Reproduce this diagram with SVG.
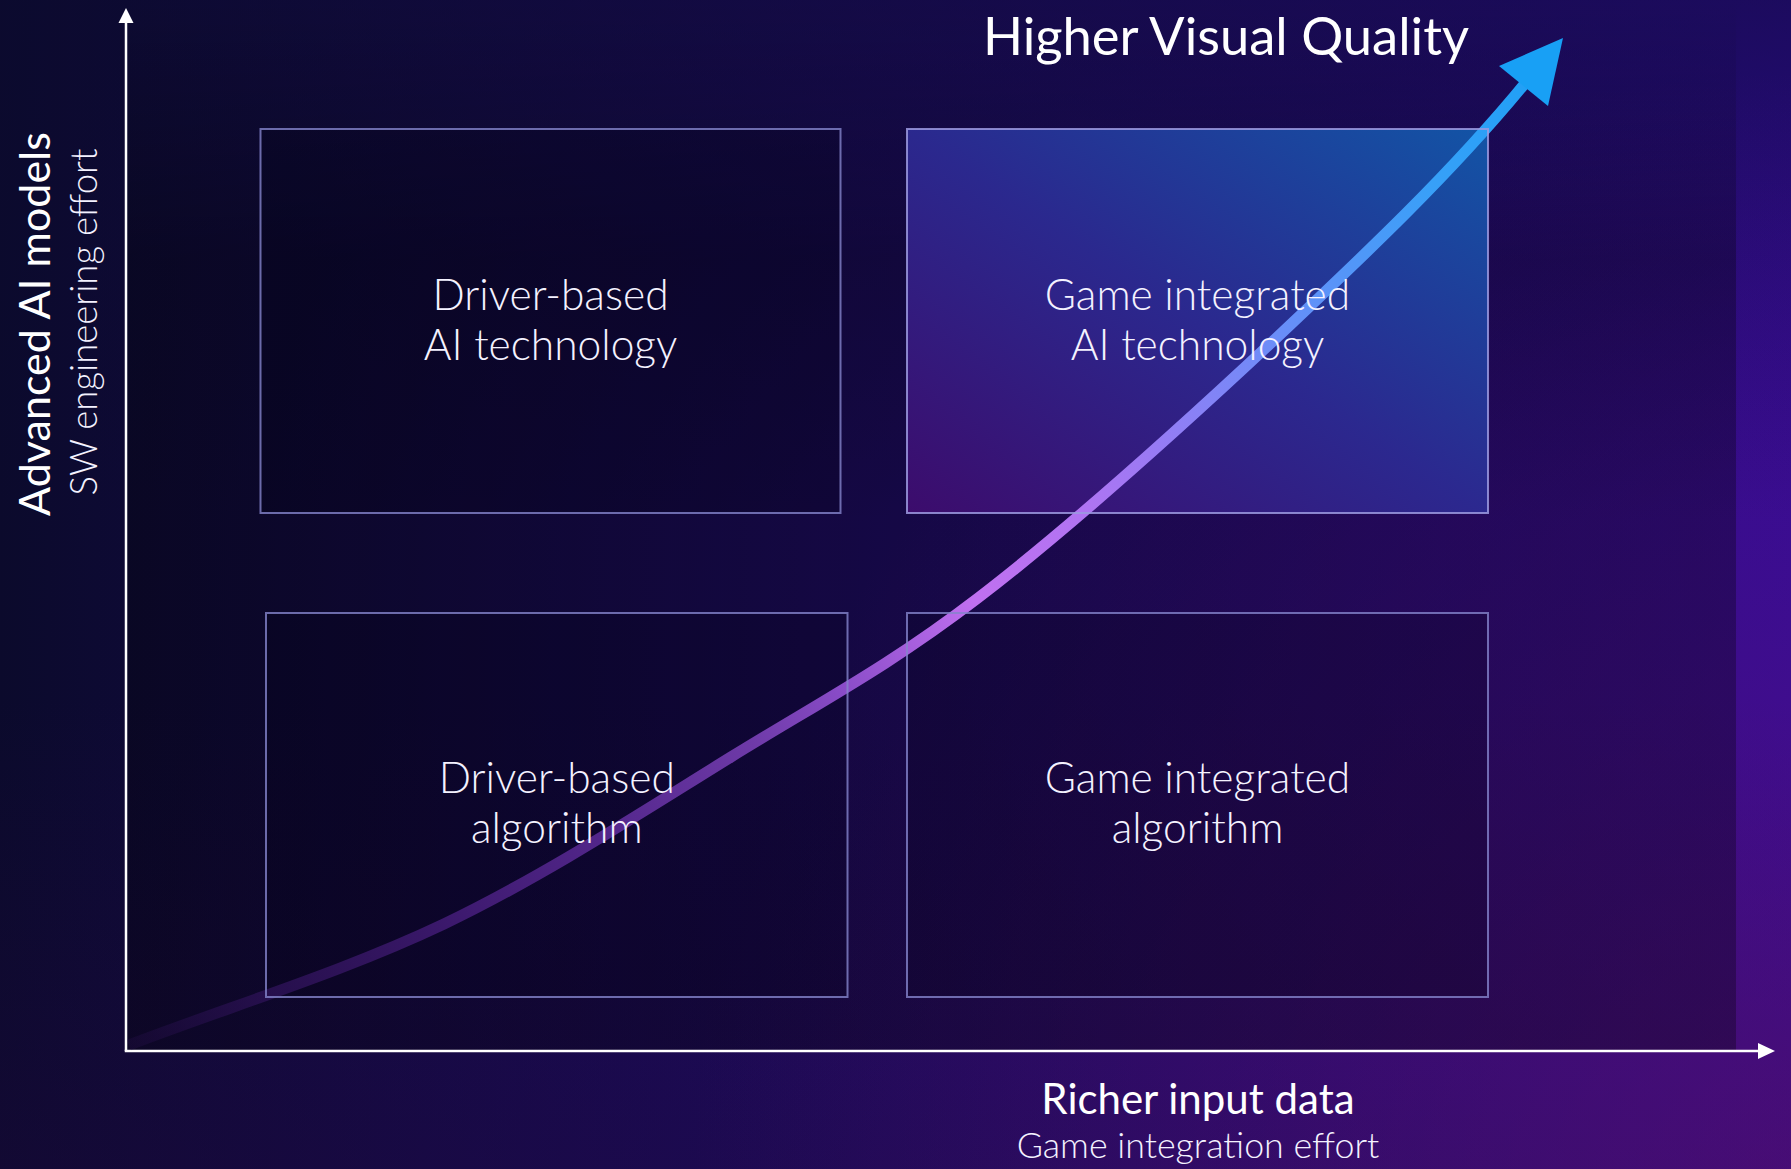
<svg xmlns="http://www.w3.org/2000/svg" width="1791" height="1169" viewBox="0 0 1791 1169">
  <defs>
    <linearGradient id="bgBase" x1="0" y1="0" x2="1791" y2="0" gradientUnits="userSpaceOnUse">
      <stop offset="0" stop-color="#0b0a2c"/>
      <stop offset="0.5" stop-color="#1e0b63"/>
      <stop offset="1" stop-color="#300c98"/>
    </linearGradient>
    <linearGradient id="bgTop" x1="0" y1="0" x2="0" y2="520" gradientUnits="userSpaceOnUse">
      <stop offset="0" stop-color="#0c0a30" stop-opacity="0.55"/>
      <stop offset="1" stop-color="#0c0a30" stop-opacity="0"/>
    </linearGradient>
    <linearGradient id="bgBottom" x1="0" y1="700" x2="0" y2="1169" gradientUnits="userSpaceOnUse">
      <stop offset="0" stop-color="#200840" stop-opacity="0"/>
      <stop offset="1" stop-color="#200840" stop-opacity="0.35"/>
    </linearGradient>
    <radialGradient id="bgCorner" cx="1791" cy="1169" r="1100" gradientUnits="userSpaceOnUse">
      <stop offset="0" stop-color="#6a1070" stop-opacity="0.45"/>
      <stop offset="1" stop-color="#6a1070" stop-opacity="0"/>
    </radialGradient>
    <linearGradient id="plotShade" x1="0" y1="0" x2="0" y2="260" gradientUnits="userSpaceOnUse">
      <stop offset="0" stop-color="#000000" stop-opacity="0"/>
      <stop offset="1" stop-color="#000000" stop-opacity="0.3"/>
    </linearGradient>
    <linearGradient id="glowPanel" x1="0" y1="1" x2="1" y2="0">
      <stop offset="0" stop-color="#3e0c6e"/>
      <stop offset="0.5" stop-color="#2c2a92"/>
      <stop offset="1" stop-color="#1258aa"/>
    </linearGradient>
    <linearGradient id="trend" x1="129" y1="1045" x2="1563" y2="38" gradientUnits="userSpaceOnUse">
      <stop offset="0" stop-color="#2a1050" stop-opacity="0.25"/>
      <stop offset="0.08" stop-color="#2e1258" stop-opacity="0.75"/>
      <stop offset="0.2" stop-color="#3e1a70"/>
      <stop offset="0.3" stop-color="#55288e"/>
      <stop offset="0.39" stop-color="#6e3aa8"/>
      <stop offset="0.45" stop-color="#8a4cc8"/>
      <stop offset="0.54" stop-color="#c070f0"/>
      <stop offset="0.62" stop-color="#b074f2"/>
      <stop offset="0.67" stop-color="#9a7af4"/>
      <stop offset="0.76" stop-color="#6e8cf8"/>
      <stop offset="0.89" stop-color="#38a0f8"/>
      <stop offset="1" stop-color="#18a0f5"/>
    </linearGradient>
  </defs>
  <style>
    .frame { fill: none; stroke: #8484cc; stroke-opacity: 0.8; stroke-width: 2; }
    .frame-hi { fill: none; stroke: #9c9ae0; stroke-opacity: 0.85; stroke-width: 2; }
    .tint { fill: #000010; fill-opacity: 0.2; }
    .label { font-family: Lato, "Open Sans", "Liberation Sans", sans-serif; font-weight: 300; font-size: 42.5px; fill: #f4f2ff; text-anchor: middle; }
    .title { font-family: Lato, "Open Sans", "Liberation Sans", sans-serif; font-weight: 400; fill: #ffffff; text-anchor: middle; }
    .sub { font-family: Lato, "Open Sans", "Liberation Sans", sans-serif; font-weight: 300; fill: #f4f2ff; text-anchor: middle; }
    .axis { stroke: #ffffff; stroke-width: 2.5; fill: none; }
    .axis-head { fill: #ffffff; }
  </style>

  <!-- backdrop -->
  <rect x="0" y="0" width="1791" height="1169" fill="url(#bgBase)"/>
  <rect x="0" y="0" width="1791" height="1169" fill="url(#bgTop)"/>
  <rect x="0" y="0" width="1791" height="1169" fill="url(#bgBottom)"/>
  <rect x="0" y="0" width="1791" height="1169" fill="url(#bgCorner)"/>
  <rect x="126" y="0" width="1610" height="1051" fill="url(#plotShade)"/>

  <!-- panel tints -->
  <rect class="tint" x="260.5" y="129" width="580" height="384"/>
  <rect x="907" y="129" width="581" height="384" fill="url(#glowPanel)" fill-opacity="0.95"/>
  <rect class="tint" x="266" y="613" width="581.5" height="384"/>
  <rect class="tint" x="907" y="613" width="581" height="384"/>

  <!-- axes -->
  <g id="axes">
    <line class="axis" x1="126" y1="1051" x2="126" y2="20"/>
    <polygon class="axis-head" points="126,8 118.5,23 133.5,23"/>
    <line class="axis" x1="124.75" y1="1051" x2="1760" y2="1051"/>
    <polygon class="axis-head" points="1775,1051 1758,1043 1758,1059"/>
    <text class="title" font-size="43" transform="translate(50,324) rotate(-90)">Advanced AI models</text>
    <text class="sub" font-size="36.5" transform="translate(97,322) rotate(-90)">SW engineering effort</text>
    <text class="title" font-size="42" x="1198" y="1114">Richer input data</text>
    <text class="sub" font-size="35.8" x="1198" y="1158">Game integration effort</text>
  </g>

  <!-- connectors -->
  <g id="connectors">
    <path id="quality-trend" d="M129,1045 C234,1005 343,972 444,924 C544,876 642,812 731,757 C820,702 888,667 978,598 C1068,529 1180,428 1271,343 C1361.7,257.7 1451,174 1527,81" fill="none" stroke="url(#trend)" stroke-width="11"/>
    <polygon points="1563,38 1499,66 1548,106" fill="#18a0f5"/>
  </g>

  <!-- nodes -->
  <g id="node-driver-ai">
    <rect class="frame" x="260.5" y="129" width="580" height="384"/>
    <text class="label" x="550.5" y="310">Driver-based</text>
    <text class="label" x="550.5" y="360">AI technology</text>
  </g>
  <g id="node-game-ai">
    <rect class="frame-hi" x="907" y="129" width="581" height="384"/>
    <text class="label" x="1197.5" y="310">Game integrated</text>
    <text class="label" x="1197.5" y="360">AI technology</text>
  </g>
  <g id="node-driver-algo">
    <rect class="frame" x="266" y="613" width="581.5" height="384"/>
    <text class="label" x="556.75" y="793">Driver-based</text>
    <text class="label" x="556.75" y="843">algorithm</text>
  </g>
  <g id="node-game-algo">
    <rect class="frame" x="907" y="613" width="581" height="384"/>
    <text class="label" x="1197.5" y="793">Game integrated</text>
    <text class="label" x="1197.5" y="843">algorithm</text>
  </g>

  <text class="title" font-size="52.5" x="1226" y="55">Higher Visual Quality</text>
</svg>
